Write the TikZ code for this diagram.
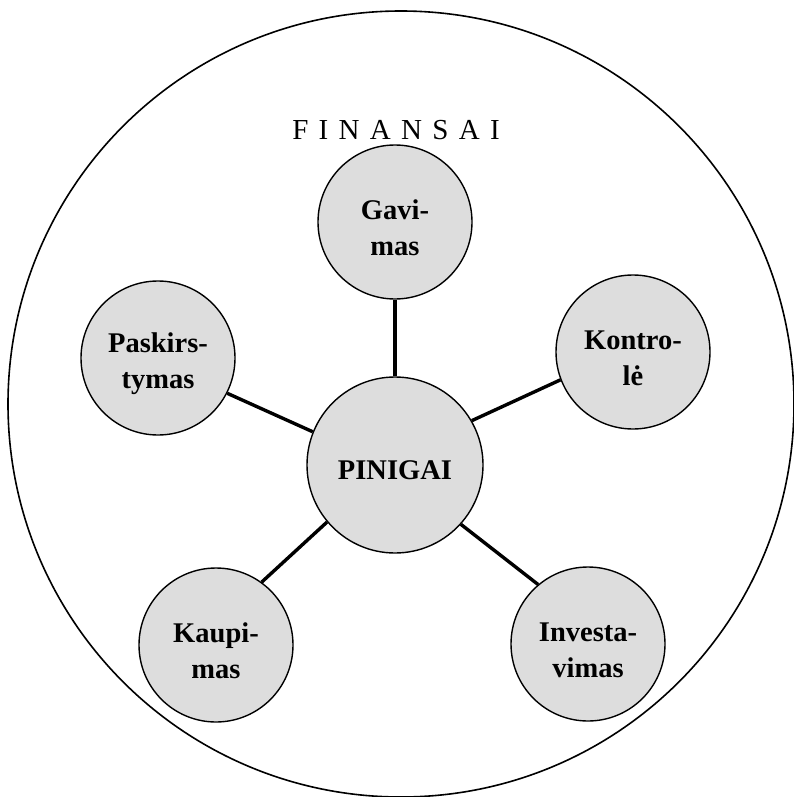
\documentclass[tikz,border=0pt]{standalone}
\usepackage{fontspec}
\setmainfont{Liberation Serif}
\usetikzlibrary{backgrounds}
\definecolor{topicgray}{HTML}{DDDDDD}
\newcommand{\lsp}{\hspace{10.3pt}}
\begin{document}
\begin{tikzpicture}[x=1pt,y=-1pt,
  topic/.style={circle, draw=black, line width=1.4pt, fill=topicgray,
    inner sep=0pt, minimum size=154pt},
  tag/.style={align=center, inner sep=0pt,
    font=\bfseries\fontsize{28.5}{36}\selectfont},
  link/.style={line width=3.4pt},
  frame/.style={circle, draw=black, line width=1.6pt, inner sep=0pt, minimum size=786pt}]
\useasboundingbox (0,0) rectangle (793,797);

% outer field
\node[frame] (outer) at (401,404) {};
\node[font=\fontsize{29}{34}\selectfont] (title) at (396,130)
  {F\lsp I\lsp N\lsp A\lsp N\lsp S\lsp A\lsp I};

% centre and the five functions
\node[topic, minimum size=176pt] (pin) at (395,465) {};
\node[topic] (gav) at (395,222) {};
\node[topic] (pas) at (158,358) {};
\node[topic] (kon) at (633,352) {};
\node[topic] (kau) at (216,645) {};
\node[topic] (inv) at (588,644) {};

% their texts, set a little below the circle centres
\node[tag] (pin-t) at ([yshift=-5pt]pin.center) {PINIGAI};
\node[tag] (gav-t) at ([yshift=-6pt]gav.center) {Gavi-\\mas};
\node[tag] (pas-t) at ([yshift=-6pt]pas.center) {Paskirs-\\tymas};
\node[tag] (kon-t) at ([yshift=-6pt]kon.center) {Kontro-\\lė};
\node[tag] (kau-t) at ([yshift=-6pt]kau.center) {Kaupi-\\mas};
\node[tag] (inv-t) at ([yshift=-6pt]inv.center) {Investa-\\vimas};

% spokes
\begin{pgfonlayer}{background}
  \draw[link] (pin.90) -- (gav.270);
  \draw[link] (pin.158) -- (pas.333);
  \draw[link] (pin.30) -- (kon.201);
  \draw[link] (pin.220) -- (kau.54);
  \draw[link] (pin.318) -- (inv.130);
\end{pgfonlayer}
\end{tikzpicture}
\end{document}
